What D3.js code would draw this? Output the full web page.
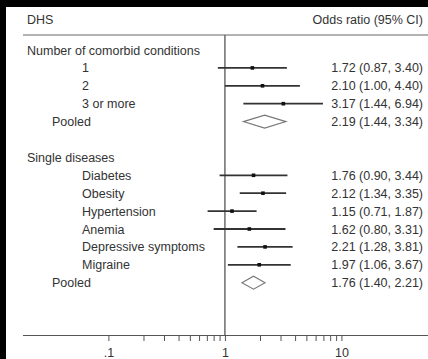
<!DOCTYPE html>
<html>
<head>
<meta charset="utf-8">
<script src="https://cdn.jsdelivr.net/npm/d3@7"></script>
<style>
  html, body { margin: 0; padding: 0; background: #000; }
  svg { display: block; }
  text { font-family: "Liberation Sans", Arial, sans-serif; fill: #333; }
</style>
</head>
<body>
<svg id="chart" width="428" height="359"></svg>
<script>
// Forest plot rows: group headers, individual estimates and pooled estimates
const rowLabels = [
  "Number of comorbid conditions", "1", "2", "3 or more", "Pooled", "",
  "Single diseases", "Diabetes", "Obesity", "Hypertension", "Anemia",
  "Depressive symptoms", "Migraine", "Pooled"
];
const rowKinds = [
  "group", "study", "study", "study", "pooled", "blank",
  "group", "study", "study", "study", "study", "study", "study", "pooled"
];
const oddsRatio = [null, 1.72, 2.10, 3.17, 2.19, null, null, 1.76, 2.12, 1.15, 1.62, 2.21, 1.97, 1.76];
const ciLower   = [null, 0.87, 1.00, 1.44, 1.44, null, null, 0.90, 1.34, 0.71, 0.80, 1.28, 1.06, 1.40];
const ciUpper   = [null, 3.40, 4.40, 6.94, 3.34, null, null, 3.44, 3.35, 1.87, 3.31, 3.81, 3.67, 2.21];
const tickValues = [0.1, 0.2, 0.3, 0.4, 0.5, 0.6, 0.7, 0.8, 0.9, 1, 2, 3, 4, 5, 6, 7, 8, 9, 10];
const tickLabels = [".1", "1", "10"];
const majorTicks = [0.1, 1, 10];

const svg = d3.select("#chart");
const W = 428, H = 359;
const FS = 12.5;

// white panel
svg.append("rect").attr("x", 6).attr("y", 7).attr("width", W - 6).attr("height", H - 7).attr("fill", "#fff");

const x = d3.scaleLog().domain([0.0185, 55.3]).range([23, 428]);
const rows = d3.range(rowLabels.length);
const y = d3.scalePoint().domain(rows).range([50, 50 + 17.9 * 13]);

const headerY = 35, axisY = 335;

// column headers
svg.append("text").attr("x", 27).attr("y", 24).attr("font-size", FS).text("DHS");
svg.append("text").attr("x", 423).attr("y", 24).attr("font-size", FS)
  .attr("text-anchor", "end").text("Odds ratio (95% CI)");
svg.append("line").attr("x1", 23).attr("x2", W).attr("y1", headerY).attr("y2", headerY)
  .attr("stroke", "#666").attr("stroke-width", 1);

// line of no effect
svg.append("line").attr("x1", x(1)).attr("x2", x(1)).attr("y1", headerY).attr("y2", axisY)
  .attr("stroke", "#555").attr("stroke-width", 1.3);

// row labels
const labelX = { group: 27, study: 82, pooled: 52, blank: 27 };
svg.append("g").selectAll("text").data(rows).join("text")
  .attr("x", i => labelX[rowKinds[i]])
  .attr("y", i => y(i) + 4.5)
  .attr("font-size", FS)
  .text(i => rowLabels[i]);

// estimate text column
const f = d3.format(".2f");
svg.append("g").selectAll("text").data(rows.filter(i => oddsRatio[i] != null)).join("text")
  .attr("x", 423).attr("y", i => y(i) + 4.5)
  .attr("font-size", FS).attr("text-anchor", "end")
  .text(i => `${f(oddsRatio[i])} (${f(ciLower[i])}, ${f(ciUpper[i])})`);

// confidence intervals and point estimates
const studies = rows.filter(i => rowKinds[i] === "study");
svg.append("g").selectAll("line").data(studies).join("line")
  .attr("x1", i => x(ciLower[i])).attr("x2", i => x(ciUpper[i]))
  .attr("y1", i => y(i)).attr("y2", i => y(i))
  .attr("stroke", "#333").attr("stroke-width", 1.8);
svg.append("g").selectAll("rect").data(studies).join("rect")
  .attr("x", i => x(oddsRatio[i]) - 1.8).attr("y", i => y(i) - 1.8)
  .attr("width", 3.6).attr("height", 3.6).attr("fill", "#111");

// pooled diamonds
const pooled = rows.filter(i => rowKinds[i] === "pooled");
svg.append("g").selectAll("path").data(pooled).join("path")
  .attr("d", i => {
    const cy = y(i), h = 6.5;
    return `M${x(ciLower[i])},${cy}L${x(oddsRatio[i])},${cy - h}L${x(ciUpper[i])},${cy}L${x(oddsRatio[i])},${cy + h}Z`;
  })
  .attr("fill", "none").attr("stroke", "#777").attr("stroke-width", 1.1);

// log axis
const axis = d3.axisBottom(x).tickValues(tickValues).tickSizeOuter(0).tickSize(6)
  .tickFormat(d => majorTicks.includes(d) ? tickLabels[majorTicks.indexOf(d)] : "");
const gAxis = svg.append("g").attr("transform", `translate(0,${axisY})`).call(axis);
gAxis.select(".domain").attr("stroke", "#555").attr("d", `M23,0.5H${W}`);
gAxis.selectAll(".tick line").attr("stroke", "#555");
gAxis.selectAll(".tick text").attr("font-size", FS).attr("fill", "#333")
  .attr("font-family", "Liberation Sans, Arial, sans-serif").attr("dy", "0.85em").attr("y", 11);
</script>
</body>
</html>
